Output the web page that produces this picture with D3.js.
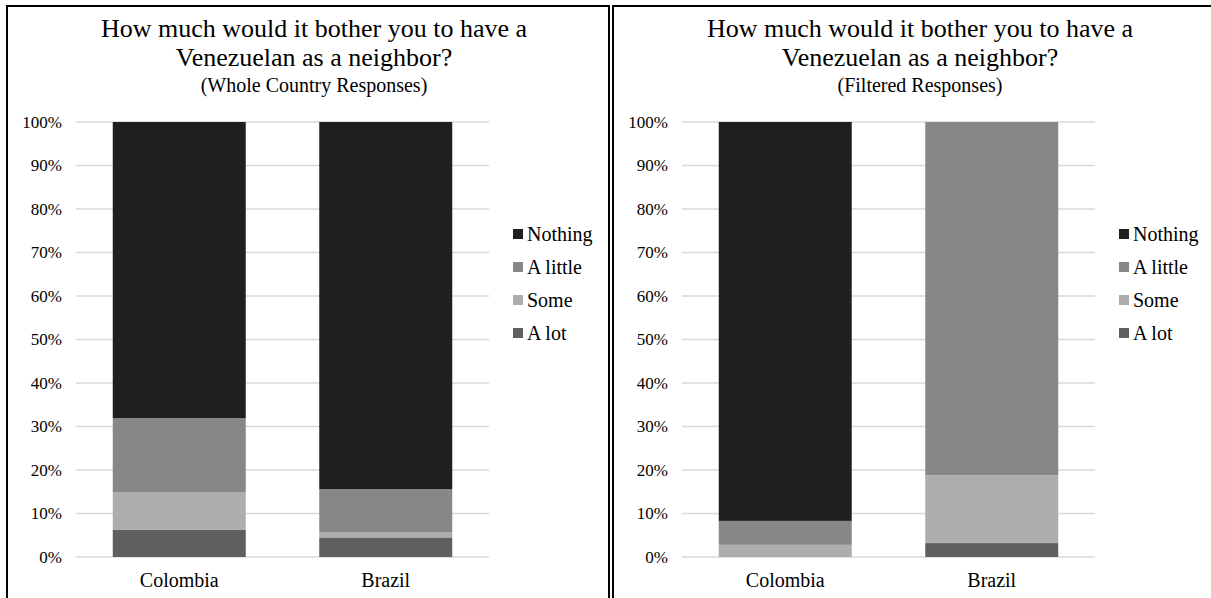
<!DOCTYPE html>
<meta charset="utf-8">
<style>
  body { margin: 0; background: #fff; }
</style>
<body>

<!-- load the d3.js library -->
<script src="https://cdn.jsdelivr.net/npm/d3@7"></script>
<script>
// data (percent)
var countries = ["Colombia", "Brazil"];
var responses = ["A lot", "Some", "A little", "Nothing"];   // bottom to top
var legendOrder = ["Nothing", "A little", "Some", "A lot"];
var colors = ["#5f5f5f", "#adadad", "#878787", "#1f1f1f"];

var wholeALot    = [6.3, 4.5];
var wholeSome    = [8.6, 1.2];
var wholeALittle = [17.0, 9.9];
var wholeNothing = [68.1, 84.4];

var filtALot    = [0.0, 3.2];
var filtSome    = [2.8, 15.6];
var filtALittle = [5.5, 81.2];
var filtNothing = [91.7, 0.0];

var yTicks = [0, 10, 20, 30, 40, 50, 60, 70, 80, 90, 100];

var titleLines = ["How much would it bother you to have a", "Venezuelan as a neighbor?"];

var FONT = "'Liberation Serif', 'DejaVu Serif', 'Times New Roman', serif";
var W = 1211, H = 598;
var panelW = 602;

var svg = d3.select("body").append("svg")
    .attr("width", W)
    .attr("height", H)
    .attr("font-family", FONT);

function rows(aLot, some, aLittle, nothing) {
  return countries.map(function(c, i) {
    return {country: c, "A lot": aLot[i], "Some": some[i], "A little": aLittle[i], "Nothing": nothing[i]};
  });
}

var color = d3.scaleOrdinal().domain(responses).range(colors);

function draw_panel(g, data, subtitle) {
  // frame
  g.append("rect")
      .attr("x", 0).attr("y", 0)
      .attr("width", panelW).attr("height", H + 10)
      .attr("fill", "none")
      .attr("stroke", "#000")
      .attr("stroke-width", 2);

  // titles
  var cx = 307;
  g.append("text").attr("x", cx).attr("y", 31).attr("text-anchor", "middle")
      .attr("font-family", FONT).attr("font-size", 26).text(titleLines[0]);
  g.append("text").attr("x", cx).attr("y", 60).attr("text-anchor", "middle")
      .attr("font-family", FONT).attr("font-size", 26).text(titleLines[1]);
  g.append("text").attr("x", cx).attr("y", 86).attr("text-anchor", "middle")
      .attr("font-family", FONT).attr("font-size", 20).text(subtitle);

  // set the ranges
  var x = d3.scaleBand().domain(countries).range([69, 482]).paddingInner(0.356).paddingOuter(0.178);
  var y = d3.scaleLinear().domain([0, 100]).range([551, 116]);

  // gridlines
  g.append("g").selectAll("line")
      .data(yTicks)
    .enter().append("line")
      .attr("x1", 69).attr("x2", 482)
      .attr("y1", function(d) { return y(d); })
      .attr("y2", function(d) { return y(d); })
      .attr("stroke", "#d9d9d9")
      .attr("stroke-width", 1.5);

  // y axis labels
  var yAxis = g.append("g")
      .attr("transform", "translate(69,0)")
      .call(d3.axisLeft(y).tickValues(yTicks).tickSize(0).tickPadding(14)
        .tickFormat(function(d) { return d + "%"; }));
  yAxis.attr("font-family", FONT).attr("font-size", 17);
  yAxis.select(".domain").remove();

  // stacked bars
  var series = d3.stack().keys(responses)(data);
  g.append("g").selectAll("g")
      .data(series)
    .enter().append("g")
      .attr("fill", function(d) { return color(d.key); })
    .selectAll("rect")
      .data(function(d) { return d; })
    .enter().append("rect")
      .attr("x", function(d) { return x(d.data.country); })
      .attr("width", x.bandwidth())
      .attr("y", function(d) { return y(d[1]); })
      .attr("height", function(d) { return y(d[0]) - y(d[1]); });

  // x axis labels
  var xAxis = g.append("g")
      .attr("transform", "translate(0," + y(0) + ")")
      .call(d3.axisBottom(x).tickSize(0).tickPadding(16));
  xAxis.attr("font-family", FONT).attr("font-size", 20);
  xAxis.select(".domain").remove();

  // legend
  var leg = g.append("g").selectAll("g")
      .data(legendOrder)
    .enter().append("g")
      .attr("transform", function(d, i) { return "translate(506," + (223 + i * 33) + ")"; });
  leg.append("rect")
      .attr("width", 10).attr("height", 10)
      .attr("fill", function(d) { return color(d); });
  leg.append("text")
      .attr("x", 14).attr("y", 12)
      .attr("font-family", FONT).attr("font-size", 20)
      .text(function(d) { return d; });
}

draw_panel(svg.append("g").attr("transform", "translate(7,6)"),
    rows(wholeALot, wholeSome, wholeALittle, wholeNothing), "(Whole Country Responses)");
draw_panel(svg.append("g").attr("transform", "translate(613,6)"),
    rows(filtALot, filtSome, filtALittle, filtNothing), "(Filtered Responses)");

</script>
</body>
